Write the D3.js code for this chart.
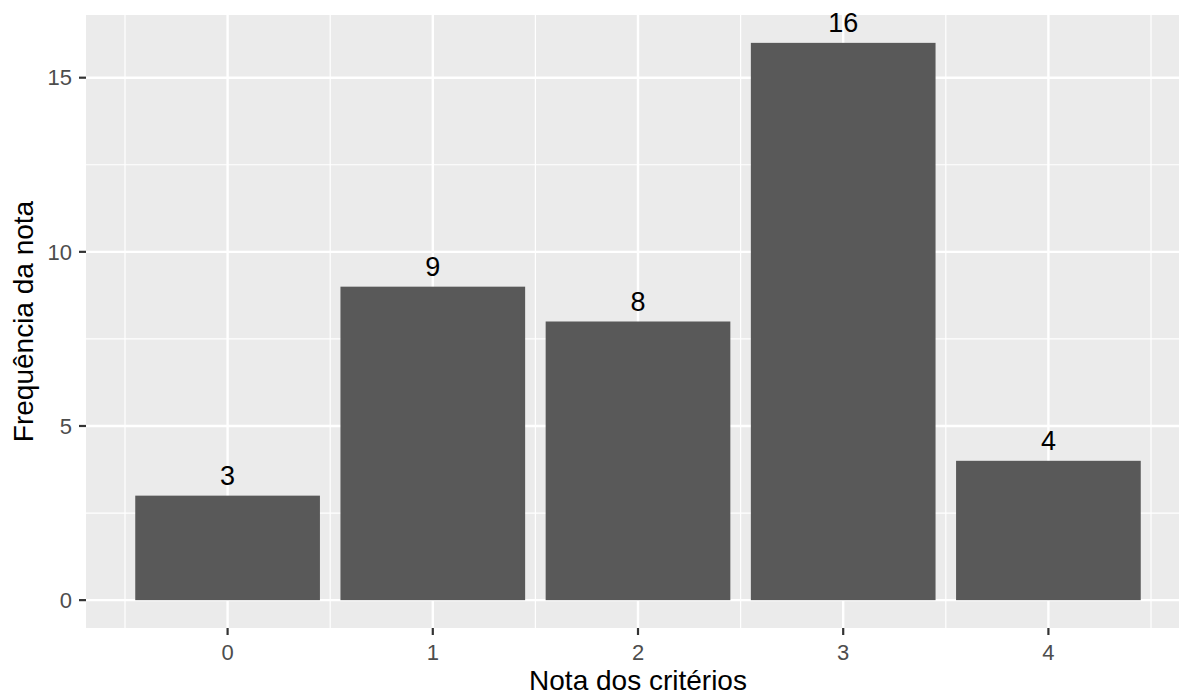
<!DOCTYPE html>
<html>
<head>
<meta charset="utf-8">
<script src="https://cdn.jsdelivr.net/npm/d3@7/dist/d3.min.js"></script>
<style>
  html, body { margin: 0; padding: 0; background: #ffffff; }
  svg { display: block; font-family: "Liberation Sans", Arial, sans-serif; }
</style>
</head>
<body>
<svg id="chart" width="1179" height="697"></svg>
<script>
// ---- data ----
const categories = ["0", "1", "2", "3", "4"];
const frequencies = [3, 9, 8, 16, 4];
const yTicks = [0, 5, 10, 15];
const yMinorTicks = [2.5, 7.5, 12.5];
const xTitle = "Nota dos critérios";
const yTitle = "Frequência da nota";

// ---- layout ----
const W = 1179, H = 697;
const panel = { left: 86, right: 1190, top: 15, bottom: 628 };

const svg = d3.select("#chart");
svg.append("rect").attr("width", W).attr("height", H).attr("fill", "#ffffff");

const x = d3.scaleBand()
  .domain(categories)
  .range([panel.left, panel.right])
  .paddingInner(0.1)
  .paddingOuter(0.24);

const y = d3.scaleLinear()
  .domain([-0.8, 16.8])
  .range([panel.bottom, panel.top]);

const step = x.step();
const center = c => x(c) + x.bandwidth() / 2;

// panel background
svg.append("rect")
  .attr("x", panel.left).attr("y", panel.top)
  .attr("width", panel.right - panel.left)
  .attr("height", panel.bottom - panel.top)
  .attr("fill", "#EBEBEB");

const grid = svg.append("g");
// minor horizontal
grid.selectAll("line.ymin").data(yMinorTicks).enter().append("line")
  .attr("x1", panel.left).attr("x2", panel.right)
  .attr("y1", d => y(d)).attr("y2", d => y(d))
  .attr("stroke", "#ffffff").attr("stroke-width", 1.2);
// minor vertical (between categories)
const minorX = categories.map(c => center(c) - step / 2).concat([center(categories[categories.length - 1]) + step / 2]);
grid.selectAll("line.xmin").data(minorX).enter().append("line")
  .attr("x1", d => d).attr("x2", d => d)
  .attr("y1", panel.top).attr("y2", panel.bottom)
  .attr("stroke", "#ffffff").attr("stroke-width", 1.2);
// major horizontal
grid.selectAll("line.ymaj").data(yTicks).enter().append("line")
  .attr("x1", panel.left).attr("x2", panel.right)
  .attr("y1", d => y(d)).attr("y2", d => y(d))
  .attr("stroke", "#ffffff").attr("stroke-width", 2.4);
// major vertical
grid.selectAll("line.xmaj").data(categories).enter().append("line")
  .attr("x1", d => center(d)).attr("x2", d => center(d))
  .attr("y1", panel.top).attr("y2", panel.bottom)
  .attr("stroke", "#ffffff").attr("stroke-width", 2.4);

// bars
svg.append("g").selectAll("rect").data(categories).enter().append("rect")
  .attr("x", d => x(d))
  .attr("width", x.bandwidth())
  .attr("y", (d, i) => y(frequencies[i]))
  .attr("height", (d, i) => y(0) - y(frequencies[i]))
  .attr("fill", "#595959");

// bar labels
svg.append("g").selectAll("text").data(categories).enter().append("text")
  .attr("x", d => center(d))
  .attr("y", (d, i) => y(frequencies[i]) - 11)
  .attr("text-anchor", "middle")
  .attr("font-size", 27)
  .attr("fill", "#000000")
  .text((d, i) => frequencies[i]);

// y axis ticks and labels
const yAxis = svg.append("g");
yAxis.selectAll("line").data(yTicks).enter().append("line")
  .attr("x1", panel.left - 7).attr("x2", panel.left)
  .attr("y1", d => y(d)).attr("y2", d => y(d))
  .attr("stroke", "#333333").attr("stroke-width", 2.2);
yAxis.selectAll("text").data(yTicks).enter().append("text")
  .attr("x", panel.left - 14)
  .attr("y", d => y(d))
  .attr("dy", "0.35em")
  .attr("text-anchor", "end")
  .attr("font-size", 22)
  .attr("fill", "#4D4D4D")
  .text(d => d);

// x axis ticks and labels
const xAxis = svg.append("g");
xAxis.selectAll("line").data(categories).enter().append("line")
  .attr("x1", d => center(d)).attr("x2", d => center(d))
  .attr("y1", panel.bottom).attr("y2", panel.bottom + 7)
  .attr("stroke", "#333333").attr("stroke-width", 2.2);
xAxis.selectAll("text").data(categories).enter().append("text")
  .attr("x", d => center(d))
  .attr("y", 660)
  .attr("text-anchor", "middle")
  .attr("font-size", 22)
  .attr("fill", "#4D4D4D")
  .text(d => d);

// axis titles
svg.append("text")
  .attr("x", (panel.left + panel.right) / 2)
  .attr("y", 690)
  .attr("text-anchor", "middle")
  .attr("font-size", 28)
  .attr("fill", "#000000")
  .text(xTitle);

svg.append("text")
  .attr("transform", `translate(33, ${(panel.top + panel.bottom) / 2}) rotate(-90)`)
  .attr("text-anchor", "middle")
  .attr("font-size", 28)
  .attr("fill", "#000000")
  .text(yTitle);
</script>
</body>
</html>
